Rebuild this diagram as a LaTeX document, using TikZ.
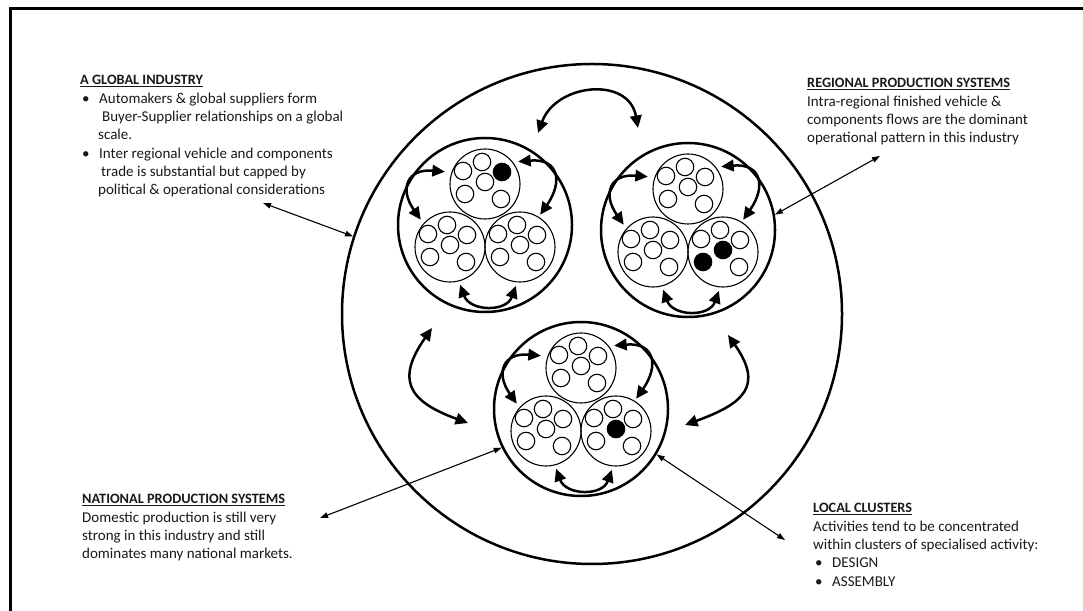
\documentclass[tikz,border=0pt]{standalone}
\usepackage{fontspec}
\setmainfont{Carlito}
\usetikzlibrary{arrows.meta}

\tikzset{
  frame/.style={line width=3pt},
  world/.style={circle, draw, line width=2.5pt, minimum size=500pt, inner sep=0pt},
  cluster/.style={circle, draw, line width=2.5pt, minimum size=174pt, inner sep=0pt},
  sub/.style={circle, draw, line width=1.1pt, minimum size=70pt, inner sep=0pt},
  dot/.style={circle, draw, line width=1.1pt, minimum size=17.5pt, inner sep=0pt},
  blackdot/.style={dot, fill=black},
  flow/.style={line width=2.5pt,
    {Triangle[length=12.5pt,width=11.5pt]}-{Triangle[length=12.5pt,width=11.5pt]}},
  pointer/.style={line width=1.1pt,
    {Triangle[length=8pt,width=5.5pt]}-{Triangle[length=8pt,width=5.5pt]}},
  label/.style={anchor=base west, inner sep=0pt,
    font=\fontsize{15}{18.3}\selectfont, text=black!90}
}

% one specialised group: a circle holding six firms
\newcommand\subunit[8]{%
  \node[sub] (#1) at #2 {};
  \node[#3] (#1-a) at ([shift={(-22,13)}]#1.center) {};
  \node[#4] (#1-b) at ([shift={(-3,22)}]#1.center) {};
  \node[#5] (#1-c) at ([shift={(17,12)}]#1.center) {};
  \node[#6] (#1-d) at ([shift={(0,2)}]#1.center) {};
  \node[#7] (#1-e) at ([shift={(-20,-10)}]#1.center) {};
  \node[#8] (#1-f) at ([shift={(16,-15)}]#1.center) {};
}

% the three two-way flows between the groups of one cluster
\newcommand\innerflows[1]{%
  \draw[flow] ([shift={(163:42)}]#1-t.center) to[out=175,in=125,looseness=1.8]
              ([shift={(137:40)}]#1-l.center);
  \draw[flow] ([shift={(34:40)}]#1-t.center) to[out=5,in=55,looseness=1.8]
              ([shift={(58:38)}]#1-r.center);
  \draw[flow] ([shift={(-75:39)}]#1-l.center) to[out=-70,in=-110,looseness=1.3]
              ([shift={(-96:39)}]#1-r.center);
}

\newcommand\bulletitem{\makebox[19pt][l]{\hspace{2pt}\textbullet}}
\newcommand\heading[1]{{\fontsize{14.3}{18.3}\selectfont\underline{\textbf{#1}}}}

\begin{document}
\begin{tikzpicture}[x=1pt,y=1pt]
\useasboundingbox (0,0) rectangle (1083,610);
\clip (0,0) rectangle (1083,610);

% page frame
\draw[frame] (10,601.5) rectangle (1110,-20);

% world circle and the three regional clusters
\node[world] (world) at (592,296) {};
\node[cluster] (tl) at (485,385) {};
\node[cluster] (tr) at (688,380) {};
\node[cluster] (b) at (581,201) {};

% groups inside the clusters
\subunit{tl-t}{(485,426)}{dot}{dot}{blackdot}{dot}{dot}{dot}
\subunit{tl-l}{(450,363)}{dot}{dot}{dot}{dot}{dot}{dot}
\subunit{tl-r}{(520,363)}{dot}{dot}{dot}{dot}{dot}{dot}

\subunit{tr-t}{(688,421)}{dot}{dot}{dot}{dot}{dot}{dot}
\subunit{tr-l}{(653,358)}{dot}{dot}{dot}{dot}{dot}{dot}
\subunit{tr-r}{(723,358)}{dot}{dot}{dot}{blackdot}{blackdot}{dot}

\subunit{b-t}{(581,242)}{dot}{dot}{dot}{dot}{dot}{dot}
\subunit{b-l}{(546,179)}{dot}{dot}{dot}{dot}{dot}{dot}
\subunit{b-r}{(616,179)}{dot}{dot}{dot}{blackdot}{dot}{dot}

\innerflows{tl}
\innerflows{tr}
\innerflows{b}

% flows between the clusters
\coordinate (t1) at ([shift={(53,92)}]tl.center);
\coordinate (t2) at ([shift={(-50,102)}]tr.center);
\draw[flow] (t1) to[out=70,in=100,looseness=1.35] (t2);

\coordinate (l1) at ([shift={(-53,-103)}]tl.center);
\coordinate (l2) at ([shift={(-113,-14)}]b.center);
\draw[flow] (l1) to[out=235,in=160,looseness=1.6] (l2);

\coordinate (r1) at ([shift={(40,-105)}]tr.center);
\coordinate (r2) at ([shift={(104,-16)}]b.center);
\draw[flow] (r1) to[out=-55,in=20,looseness=1.6] (r2);

% explanatory texts
\node[label] (global) at (80,525) {\begin{tabular}[t]{@{}l@{}}
\heading{A GLOBAL INDUSTRY}\\
\bulletitem Automakers \& global suppliers form\\
\hspace{22pt}Buyer-Supplier relationships on a global\\
\hspace{18pt}scale.\\
\bulletitem Inter regional vehicle and components\\
\hspace{21pt}trade is substantial but capped by\\
\hspace{18pt}political \& operational considerations
\end{tabular}};

\node[label] (regional) at (807,522) {\begin{tabular}[t]{@{}l@{}}
\heading{REGIONAL PRODUCTION SYSTEMS}\\
Intra-regional finished vehicle \&\\
components flows are the dominant\\
operational pattern in this industry
\end{tabular}};

\node[label] (national) at (82,106) {\begin{tabular}[t]{@{}l@{}}
\heading{NATIONAL PRODUCTION SYSTEMS}\\
Domestic production is still very\\
strong in this industry and still\\
dominates many national markets.
\end{tabular}};

\node[label] (local) at (813,97) {\begin{tabular}[t]{@{}l@{}}
\heading{LOCAL CLUSTERS}\\
Activities tend to be concentrated\\
within clusters of specialised activity:\\
\bulletitem DESIGN\\
\bulletitem ASSEMBLY
\end{tabular}};

% pointers from the texts to the picture
\coordinate (gp) at (263,407);
\draw[pointer] (gp) -- (world.162);
\coordinate (rp) at (880,454);
\draw[pointer] (rp) -- (tr.10);
\coordinate (np) at (320,92);
\draw[pointer] (np) -- (b.206);
\coordinate (lp) at (785,70);
\draw[pointer] (lp) -- (b.-31);
\end{tikzpicture}
\end{document}
